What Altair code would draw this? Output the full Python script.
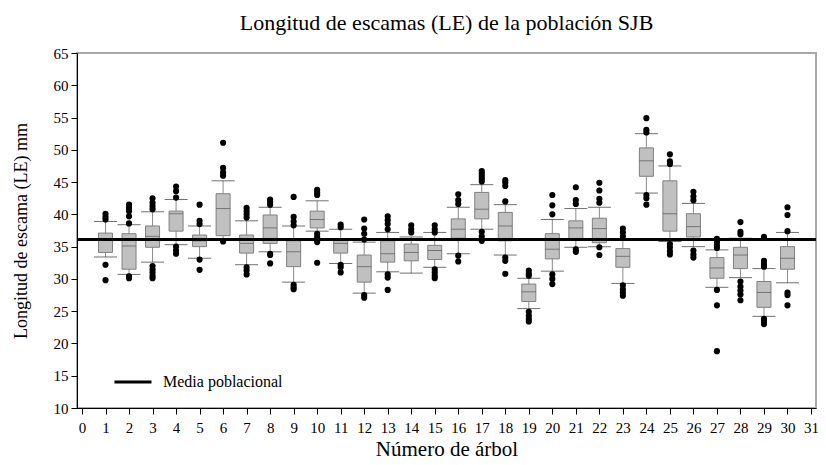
import altair as alt
import pandas as pd

trees = list(range(1, 31))
q1 = [34.1, 31.5, 34.9, 37.4, 35.0, 36.7, 34.0, 35.5, 31.9, 37.9,
      34.0, 29.5, 32.6, 32.8, 33.0, 36.3, 39.3, 35.9, 26.5, 33.1,
      36.2, 35.6, 31.8, 45.9, 37.4, 36.5, 30.1, 31.6, 25.6, 31.5]
median = [36.0, 35.1, 36.6, 40.1, 35.9, 40.9, 35.5, 37.9, 34.2, 39.2,
          35.5, 31.9, 33.9, 34.1, 34.4, 37.7, 40.8, 38.2, 28.0, 34.6,
          37.9, 37.8, 33.5, 48.3, 40.1, 38.1, 31.7, 33.7, 27.9, 33.2]
q3 = [37.1, 37.0, 38.2, 40.5, 36.8, 43.2, 36.8, 39.9, 35.9, 40.5,
      36.0, 33.7, 35.9, 35.4, 35.2, 39.3, 43.4, 40.3, 29.2, 37.0,
      39.0, 39.4, 34.7, 50.3, 45.2, 40.1, 33.3, 34.9, 29.6, 35.0]
whisker_low = [33.4, 30.7, 32.6, 35.3, 33.2, 36.1, 32.2, 34.2, 29.5, 37.4,
               32.4, 27.8, 31.1, 30.9, 31.8, 33.9, 37.7, 33.7, 25.4, 31.2,
               34.9, 35.0, 29.3, 43.3, 35.8, 35.0, 28.7, 30.2, 24.2, 29.4]
whisker_high = [38.9, 38.4, 40.4, 42.3, 38.2, 45.2, 39.0, 41.1, 38.2, 42.1,
                37.7, 35.7, 37.2, 36.5, 37.2, 41.1, 44.6, 41.5, 30.1, 39.2,
                40.9, 41.1, 36.2, 52.5, 47.5, 41.7, 34.5, 36.3, 31.6, 37.2]
outliers = [
    [40.1, 39.6, 39.2, 32.2, 29.8],
    [41.5, 41.0, 40.5, 39.7, 38.6, 30.4, 30.1],
    [42.5, 41.8, 41.3, 40.8, 32.0, 31.5, 31.0, 30.5, 30.1],
    [44.3, 43.6, 42.6, 35.0, 34.4, 33.9],
    [41.5, 39.0, 38.5, 33.0, 31.4],
    [51.1, 47.2, 46.5, 46.0, 35.8],
    [41.0, 40.5, 40.0, 39.5, 31.8, 31.3, 30.7],
    [42.3, 41.9, 41.5, 33.9, 33.7, 32.4],
    [42.7, 39.6, 38.9, 38.3, 29.1, 28.7, 28.4],
    [43.8, 43.4, 43.0, 37.0, 36.5, 36.1, 35.7, 32.5],
    [38.4, 38.0, 32.2, 31.8, 31.0],
    [39.2, 37.8, 37.0, 36.1, 27.5, 27.1],
    [39.7, 39.1, 38.5, 37.7, 30.7, 30.2, 28.3],
    [38.3, 37.7, 37.2],
    [38.3, 37.7, 37.2, 31.5, 31.0, 30.5, 30.1],
    [43.1, 42.2, 41.6, 33.6, 32.7],
    [46.7, 46.3, 45.9, 45.5, 45.1, 37.3, 36.6, 35.9],
    [45.3, 44.9, 44.4, 42.0, 33.3, 32.8, 30.8],
    [31.3, 30.8, 30.5, 24.9, 24.3, 23.8, 23.4],
    [43.0, 41.4, 40.0, 30.7, 30.0, 29.2],
    [44.2, 42.2, 41.6, 34.6, 34.2],
    [44.9, 43.7, 42.4, 41.8, 34.9, 33.7],
    [37.8, 37.2, 36.6, 29.0, 28.4, 27.9, 27.4],
    [54.9, 53.1, 52.7, 43.0, 42.5, 41.5],
    [49.3, 48.2, 47.8, 35.4, 34.9, 34.3, 33.8],
    [43.5, 42.8, 42.2, 34.4, 33.8, 33.3],
    [36.2, 35.7, 35.2, 34.8, 28.3, 25.9, 18.8],
    [38.8, 37.3, 36.9, 29.6, 28.8, 28.2, 27.6, 26.7],
    [36.5, 32.8, 32.3, 31.9, 23.8, 23.4, 23.0],
    [41.1, 39.9, 37.4, 27.9, 27.5, 25.9],
]
mean_value = 36.1
mean_label = "Media poblacional"
x_ticks = list(range(0, 32))
y_ticks = list(range(10, 70, 5))

box_df = pd.DataFrame({"tree": trees, "q1": q1, "median": median, "q3": q3,
                       "lo": whisker_low, "hi": whisker_high})
out_df = pd.DataFrame([{"tree": t, "value": v} for t, vals in zip(trees, outliers) for v in vals])
mean_df = pd.DataFrame({"mean": [mean_value], "serie": [mean_label]})

FONT = "'Liberation Serif', 'DejaVu Serif', serif"
xscale = alt.Scale(domain=[0, 31], nice=False, zero=False)
yscale = alt.Scale(domain=[10, 65], nice=False, zero=False)

xaxis = alt.Axis(values=x_ticks, title="Número de árbol", format="d",
                 labelPadding=6, titlePadding=3, labelOverlap=False, labelFlush=False,
                 titleFontSize=21)
yaxis = alt.Axis(values=y_ticks, title="Longitud de escama (LE) mm",
                 labelPadding=3, titlePadding=23, labelOverlap=False, titleFontSize=18)


def X(field):
    return alt.X(field, type="quantitative", scale=xscale, axis=xaxis)


def Y(field):
    return alt.Y(field, type="quantitative", scale=yscale, axis=yaxis)


base = alt.Chart(box_df)

whisk = base.mark_rule(color="#8a8a8a", strokeWidth=1).encode(
    x=X("tree"), y=Y("lo"), y2="hi:Q")
boxes = base.mark_bar(size=14, color="#c0c0c0", stroke="#808080", strokeWidth=1).encode(
    x=X("tree"), y=Y("q1"), y2="q3:Q")
meds = base.mark_tick(orient="horizontal", size=14, thickness=1, color="#555555").encode(
    x=X("tree"), y=Y("median"))
cap_lo = base.mark_tick(orient="horizontal", size=23, thickness=1, color="#333333").encode(
    x=X("tree"), y=Y("lo"))
cap_hi = base.mark_tick(orient="horizontal", size=23, thickness=1, color="#333333").encode(
    x=X("tree"), y=Y("hi"))
pts = alt.Chart(out_df).mark_circle(size=38, color="black", opacity=1).encode(
    x=X("tree"), y=Y("value"))
mean_line = alt.Chart(mean_df).mark_rule(strokeWidth=3).encode(
    y=Y("mean"),
    color=alt.Color("serie:N", scale=alt.Scale(range=["black"]),
                    legend=alt.Legend(title=None, orient="none", legendX=36, legendY=309,
                                      symbolType="stroke", symbolStrokeWidth=3,
                                      symbolSize=1369, symbolStrokeColor="black",
                                      labelFont=FONT, labelFontSize=16, labelColor="black",
                                      labelOffset=10, padding=0)))

chart = alt.layer(whisk, boxes, meds, cap_lo, cap_hi, pts, mean_line).properties(
    width=739, height=355,
    title=alt.Title("Longitud de escamas (LE) de la población SJB", font=FONT,
                    fontSize=22, fontWeight="normal", color="black", offset=11),
    autosize=alt.AutoSizeParams(type="none"),
    padding={"left": 69, "top": 45, "right": 2, "bottom": 52},
).configure_axis(
    labelFont=FONT, labelFontSize=15, labelColor="black",
    titleFont=FONT, titleFontWeight="normal", titleColor="black",
    domainColor="black", tickColor="black", tickSize=6, grid=False,
).configure_view(stroke="#a8a8a8", strokeWidth=2)

chart.save("out.html", embed_options={"renderer": "svg", "actions": False})
